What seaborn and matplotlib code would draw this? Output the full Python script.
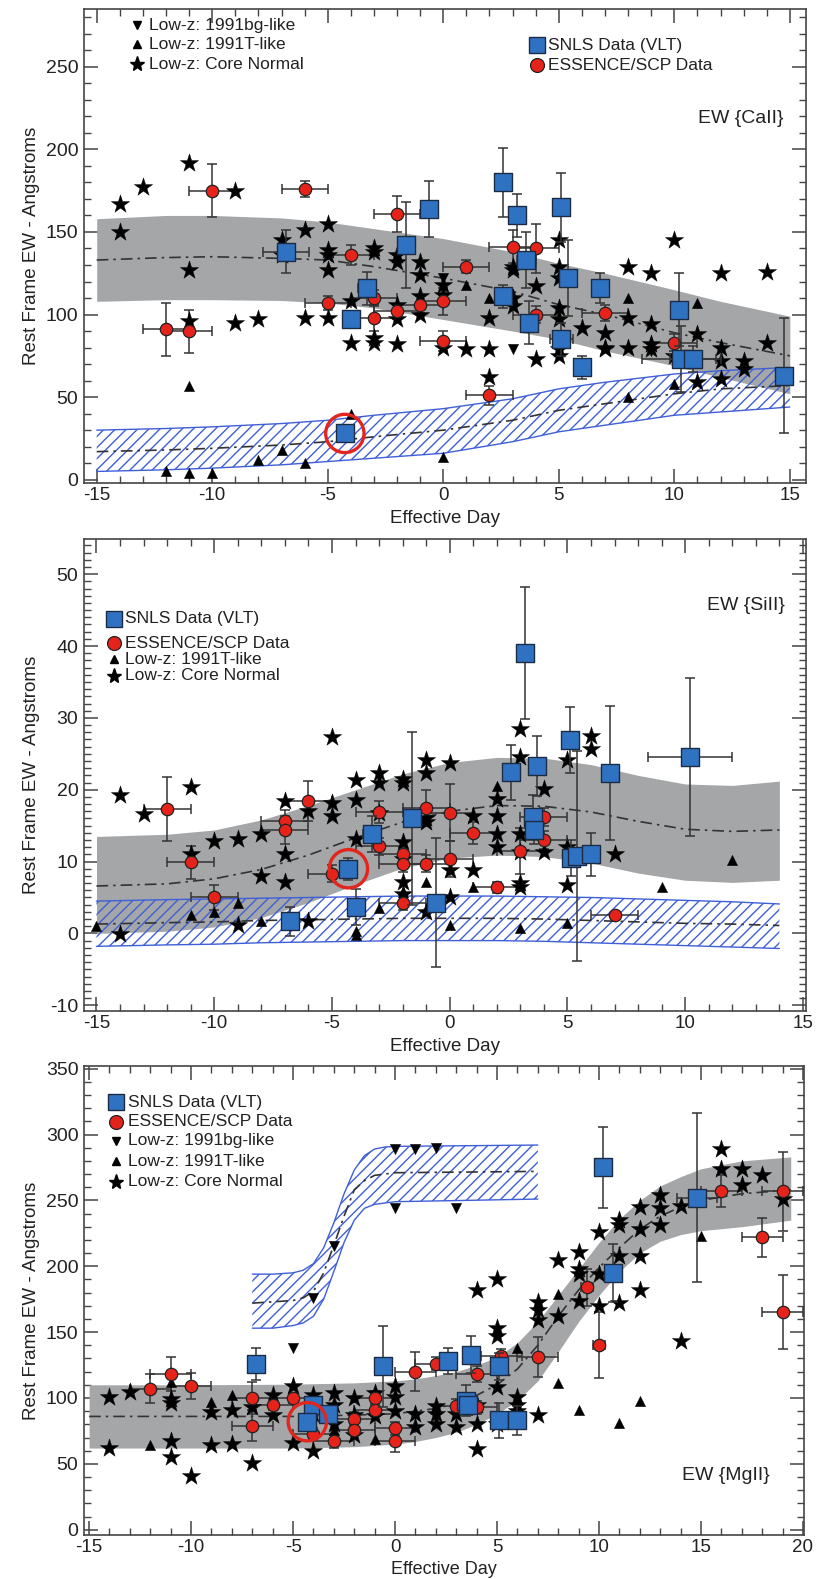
import numpy as np
import pandas as pd
import matplotlib.pyplot as plt
from matplotlib.ticker import MultipleLocator
import seaborn as sns

sns.set_style("ticks")
plt.rcParams['font.family'] = ['Liberation Sans', 'DejaVu Sans']
plt.rcParams['hatch.linewidth'] = 1.0
plt.rcParams['axes.unicode_minus'] = False

SQ_COLOR = '#2f72c2'
CI_COLOR = '#e5231b'
GRAY = '#a4a6a8'
HATCH = '#3f5fd8'
INK = '#333333'

# ---------------- CaII panel ----------------
ca_stars = [(-14, 167), (-14, 150), (-13, 177), (-11, 192), (-11, 127), (-9, 175), (-11, 96), (-9, 95),
            (-8, 97), (-7, 145), (-7, 136), (-6, 151), (-5, 155), (-5, 139), (-5, 136), (-5, 127),
            (-6, 98), (-5, 98), (-4, 83), (-3, 83), (-3, 86), (-2, 82), (-3, 140), (-3, 138),
            (-2, 136), (-2, 132), (-1, 132), (-1, 124), (-4, 108), (-2, 106), (-2, 97), (-1, 111),
            (-1, 100), (0, 80), (0, 118), (0, 112), (5, 145), (10, 145), (8, 129), (9, 125),
            (12, 125), (14, 126), (3, 129), (3, 127), (4, 117), (5, 129), (5, 122), (3, 110),
            (3, 105), (2, 98), (1, 79), (2, 79), (4, 73), (5, 79), (5, 75), (5, 104), (5, 97),
            (6, 92), (7, 89), (7, 80), (7, 79), (8, 98), (8, 80), (9, 94), (9, 82), (9, 79),
            (11, 88), (11, 59), (12, 80), (12, 72), (12, 61), (13, 72), (13, 67), (14, 83),
            (2, 62), (10, 75)]
ca_tri_up = [(-11, 57), (-12, 5), (-11, 4), (-10, 4), (-8, 12), (-7, 18), (-6, 10), (-4, 40),
             (0, 14), (1, 118), (2, 110), (8, 110), (11, 107), (8, 50), (10, 58)]
ca_tri_down = [(3, 79), (0, 122), (9, 78)]
# x, y, xerr, yerr
ca_circles = [(-12, 91, 1, 16), (-11, 90, 1, 13), (-10, 175, 1, 16), (-6, 176, 1, 5),
              (-2, 161, 1, 11), (-4, 136, 1, 6), (-5, 107, 1, 4), (-3, 110, 1, 5), (-3, 98, 1, 8),
              (-2, 102, 1, 4), (-1, 106, 1, 5), (0, 108, 1, 8), (0, 84, 1, 6), (1, 129, 1, 4),
              (3, 141, 1, 10), (4, 140, 1, 15), (4, 100, 1, 5), (7, 101, 1, 5), (2, 51, 1, 6),
              (10, 83, 1, 5)]
ca_squares = [(-6.8, 138, 1.0, 13), (-3.3, 116, 0.4, 10), (-4.0, 97, 0.3, 4), (-1.6, 142, 0.3, 26),
              (-0.6, 164, 0.2, 17), (2.6, 180, 0.2, 21), (3.2, 160, 0.2, 13), (5.1, 165, 0.2, 21),
              (3.6, 133, 0.4, 17), (5.4, 122, 0.3, 23), (2.6, 111, 0.3, 7), (3.7, 95, 0.3, 13),
              (5.1, 85, 0.5, 10), (6.0, 68, 0.2, 7), (6.8, 116, 0.3, 9), (10.2, 103, 0.3, 22),
              (10.3, 73, 1.7, 20), (10.8, 73, 1.0, 8), (14.75, 63, 0.2, 35), (-4.26, 28, 0.2, 4)]
ca_ring = (-4.26, 28)
ca_band_x = [-15, -12, -10, -7, -5, -3, 0, 3, 5, 7, 10, 12, 15]
ca_band_hi = [158, 160, 160, 158.5, 156, 152, 146, 138, 131, 125, 115, 108, 99]
ca_band_lo = [108, 109, 109, 108.5, 107, 104, 97, 90, 85, 78, 69, 62, 52]
ca_band_mid = [133, 134.5, 135, 134, 133, 129, 122, 114, 106, 100, 89, 83, 75]
ca_hatch_x = ca_band_x
ca_hatch_hi = [30, 31, 32, 34, 36, 39, 43, 49, 55, 59, 64, 66, 68]
ca_hatch_lo = [5, 6, 7, 9, 11, 13, 16, 23, 29, 33, 39, 41, 44]
ca_hatch_mid = [17, 18, 19, 21, 23, 26, 30, 36, 42, 46, 52, 55, 57]

# ---------------- SiII panel ----------------
si_stars = [(-14, 19.3), (-13, 16.6), (-11, 20.4), (-11, 11.1), (-10, 12.8), (-9, 13.2), (-8, 13.9),
            (-8, 8.0), (-7, 18.4), (-7, 11.0), (-7, 7.1), (-6, 17.0), (-5, 27.3), (-5, 18.2),
            (-5, 16.3), (-6, 1.7), (-4, 21.3), (-4, 18.6), (-4, 13.1), (-3, 22.3), (-3, 20.9),
            (-2, 21.5), (-2, 21.0), (-1, 24.1), (-1, 22.3), (-1, 16.1), (-1, 15.5), (-2, 12.7),
            (-2, 10.4), (-2, 7.2), (-2, 5.5), (-14, -0.1), (-9, 1.2), (-1, 3.0), (-3, 16.8),
            (3, 28.4), (0, 23.7), (3, 24.5), (2, 18.7), (2, 16.4), (2, 13.9), (2, 12.0), (1, 16.4),
            (1, 8.8), (3, 13.9), (3, 11.4), (3, 7.0), (3, 6.4), (4, 20.1), (4, 11.4), (0, 8.8),
            (5, 24.1), (5, 12.0), (5, 6.7), (6, 27.5), (6, 25.7), (7, 11.0), (0, 5.0)]
si_tri_up = [(-15, 1.0), (-11, 2.6), (-10, 3.0), (-9, 4.3), (-8, 1.7), (-4, -0.2), (-4, 0.3),
             (-3, 3.5), (-2, 5.8), (-1, 7.2), (2, 20.5), (1, 6.4), (3, 0.8), (5, 1.5), (0, 1.2),
             (9, 6.5), (12, 10.2)]
si_tri_down = []
si_circles = [(-12, 17.3, 1, 4.5), (-11, 9.9, 1, 2.3), (-10, 5.0, 1, 1.8), (-7, 15.7, 1, 1.5),
              (-7, 14.4, 1, 2), (-6, 18.4, 1, 2.8), (-5, 8.3, 1, 1.2), (-3, 16.9, 1, 1.5),
              (-3, 12.1, 1, 1.2), (-2, 11.0, 1, 1), (-2, 9.7, 1, 1.2), (-2, 4.3, 1, 1),
              (-1, 17.4, 1, 2.5), (-1, 9.7, 1, 1.2), (0, 16.8, 1, 4), (0, 10.4, 1, 2.5),
              (1, 14.0, 1, 1.5), (2, 6.4, 1, 0.8), (3, 11.5, 1, 3.2), (4, 16.2, 1, 1.2),
              (4, 13.0, 1, 1.2), (7, 2.5, 1, 0.5)]
si_squares = [(-6.8, 1.7, 0.3, 2), (-4.3, 9.0, 0.2, 1.5), (-4.0, 3.7, 0.2, 2.5), (-3.3, 13.8, 0.4, 2.5),
              (-1.6, 16.0, 0.3, 12), (-0.6, 4.3, 0.2, 9), (3.2, 39.0, 0.2, 9.2), (2.6, 22.4, 0.2, 3.8),
              (3.7, 23.3, 0.2, 4.2), (3.55, 16.2, 0.3, 3), (3.6, 14.4, 0.2, 2), (5.1, 26.9, 0.2, 4.6),
              (5.15, 10.5, 0.3, 2.5), (5.4, 10.8, 0.2, 14.6), (6.0, 11.0, 0.2, 3), (6.8, 22.3, 0.2, 9.3),
              (10.2, 24.6, 1.8, 11)]
si_ring = (-4.3, 9.0)
si_band_x = [-15, -12, -10, -8, -6, -4, -2, 0, 2, 4, 6, 8, 10, 12, 14]
si_band_hi = [13.5, 13.8, 14.4, 15.8, 17.8, 20.0, 22.2, 23.8, 24.5, 24.4, 23.5, 22.0, 20.8, 20.6, 21.2]
si_band_lo = [0.0, 0.3, 0.9, 2.2, 4.3, 6.8, 9.1, 10.5, 10.9, 10.7, 9.8, 8.4, 7.4, 7.1, 7.4]
si_band_mid = [6.6, 6.9, 7.6, 8.9, 10.9, 13.3, 15.5, 17.0, 17.8, 17.7, 16.9, 15.6, 14.5, 14.2, 14.4]
si_hatch_x = si_band_x
si_hatch_hi = [4.5, 4.7, 4.8, 4.9, 5.0, 5.1, 5.2, 5.2, 5.2, 5.1, 5.0, 4.8, 4.6, 4.4, 4.1]
si_hatch_lo = [-1.8, -1.6, -1.5, -1.3, -1.2, -1.1, -1.0, -1.0, -1.0, -1.1, -1.3, -1.5, -1.7, -1.9, -2.1]
si_hatch_mid = [1.3, 1.5, 1.6, 1.8, 1.9, 2.0, 2.1, 2.1, 2.1, 2.0, 1.8, 1.6, 1.4, 1.3, 1.1]

# ---------------- MgII panel ----------------
mg_stars = [(-14, 101), (-13, 104.5), (-14, 62), (-11, 96), (-11, 99), (-11, 67), (-11, 55), (-10, 41),
            (-9, 89), (-9, 64), (-8, 91), (-8, 65), (-7, 93), (-7, 51), (-6, 102), (-6, 87), (-5, 109),
            (-5, 66), (-4, 102), (-4, 60), (-3, 104), (-3, 80), (-2, 100), (-2, 87), (-2, 72),
            (-1, 104), (-1, 86), (0, 109), (0, 101), (0, 90), (1, 88), (1, 78), (2, 88), (2, 80),
            (-3, 95), (-4, 88), (4, 182), (5, 190), (5, 153), (5, 147), (6, 101), (6, 95), (7, 173),
            (7, 167), (7, 159), (7, 87), (8, 205), (8, 162), (9, 211), (9, 198), (9, 194), (9, 174),
            (10, 194), (10, 170), (11, 235), (11, 231), (11, 208), (11, 172), (10, 226), (12, 245),
            (12, 228), (12, 208), (12, 182), (13, 254), (13, 244), (13, 231), (14, 246), (14, 143),
            (16, 289), (16, 274), (17, 274), (17, 262), (18, 269), (19, 251), (3, 78), (4, 80),
            (4, 61), (5, 80), (3, 88), (5, 108), (6, 90), (4, 95), (2, 94)]
mg_tri_up = [(-12, 64), (-11, 112), (-9, 97), (-8, 102), (-1, 69), (-3, 76), (6, 138), (8, 179),
             (8, 111), (9, 91), (11, 81), (12, 98), (15, 223)]
mg_tri_down = [(-4, 176), (-3, 215), (0, 289), (1, 289), (2, 290), (0, 244), (-5, 138), (3, 244)]
mg_circles = [(-12, 107, 1, 11), (-11, 118, 1, 13), (-10, 109, 1, 10), (-7, 100, 1, 12), (-7, 79, 1, 12),
              (-6, 95, 1, 4), (-5, 100, 1, 4), (-4, 73, 1, 4), (-3, 67, 1, 5), (-2, 84, 1, 5),
              (-2, 76, 1, 4), (-1, 100, 1, 5), (-1, 91, 1, 5), (0, 77, 1, 5), (0, 67, 1, 8),
              (1, 120, 1, 15), (2, 126, 1, 5), (3, 94, 1, 5), (4, 118, 1, 6), (4, 93, 1, 5),
              (5.2, 132, 1, 5), (7, 131, 1, 15), (9.4, 184, 0.3, 14), (10, 140, 0.3, 25),
              (16, 257, 1, 12), (18, 222, 1, 15), (19, 257, 1, 30), (19, 165, 1, 28)]
mg_squares = [(-6.8, 126, 0.2, 12), (-4.0, 95, 0.2, 5), (-3.3, 88, 0.2, 5), (-0.6, 124, 0.2, 31),
              (2.6, 128, 0.3, 10), (3.7, 133, 0.3, 14), (3.5, 98, 0.3, 12), (3.6, 95, 0.3, 8),
              (5.1, 124, 0.3, 10), (5.1, 83, 0.3, 13), (6.0, 83, 0.3, 11), (10.2, 275, 0.2, 31),
              (10.7, 195, 0.3, 22), (14.8, 252, 1.0, 64), (-4.3, 82, 0.2, 5)]
mg_ring = (-4.3, 82)
mg_band_x = [-15, -10, -5, -2, 0, 1, 2, 3, 4, 5, 6, 7, 8, 9, 10, 11, 12, 13, 14, 15, 17, 19.4]
mg_band_hi = [110, 110, 110.5, 111.5, 113, 114.5, 117, 120, 125, 131, 142, 158, 178, 198, 218, 236,
              250, 261, 268, 274, 280, 283]
mg_band_lo = [62, 62, 62, 63, 65, 67, 70, 74, 80, 88, 98, 113, 135, 158, 178, 196, 210, 219, 224,
              227, 230, 235]
mg_band_mid = [86, 86, 86, 87, 88, 90, 92, 96, 102, 110, 122, 140, 162, 182, 199, 214, 228, 238,
               245, 250, 255, 258]
mg_hatch_x = [-7, -6, -5, -4.5, -4, -3.5, -3, -2.5, -2, -1.5, -1, -0.5, 0, 7]
mg_hatch_hi = [194, 194, 195, 197, 202, 214, 233, 255, 273, 284, 289, 290.5, 291, 292]
mg_hatch_lo = [153, 153, 155, 157, 162, 175, 196, 218, 235, 244, 247, 248, 249, 251]
mg_hatch_mid = [172, 173, 174, 176, 181, 195, 216, 238, 258, 265, 269, 270, 271, 272]

LBL_SNLS = 'SNLS Data (VLT)'
LBL_ESS = 'ESSENCE/SCP Data'
LBL_BG = 'Low-z: 1991bg-like'
LBL_T = 'Low-z: 1991T-like'
LBL_N = 'Low-z: Core Normal'

DASHDOT = (0, (7, 3, 1.5, 3))

fig = plt.figure(figsize=(8.18, 15.79), dpi=100)
W, H = 818, 1579


def make_axes(l, r, t, b):
    return fig.add_axes([l / W, 1 - b / H, (r - l) / W, (b - t) / H])


def draw_bands(ax, bx, bhi, blo, bmid, hx, hhi, hlo, hmid):
    ax.fill_between(bx, blo, bhi, color=GRAY, lw=0, zorder=1)
    ax.plot(bx, bmid, color=INK, lw=1.2, ls=DASHDOT, zorder=2)
    ax.fill_between(hx, hlo, hhi, facecolor='none', edgecolor=HATCH, hatch='///', lw=0, zorder=2)
    ax.plot(hx, hhi, color=HATCH, lw=1.0, zorder=2)
    ax.plot(hx, hlo, color=HATCH, lw=1.0, zorder=2)
    ax.plot(hx, hmid, color=INK, lw=1.2, ls=DASHDOT, zorder=2)


def draw_points(ax, stars, tri_up, tri_down, circles, squares, ring):
    st = pd.DataFrame(stars, columns=['x', 'y'])
    sns.scatterplot(data=st, x='x', y='y', marker='*', s=190, color='black', edgecolor='black',
                    linewidth=0.3, ax=ax, zorder=4, legend=False)
    if tri_up:
        tu = pd.DataFrame(tri_up, columns=['x', 'y'])
        sns.scatterplot(data=tu, x='x', y='y', marker='^', s=55, color='black', edgecolor='black',
                        linewidth=0.3, ax=ax, zorder=4, legend=False)
    if tri_down:
        td = pd.DataFrame(tri_down, columns=['x', 'y'])
        sns.scatterplot(data=td, x='x', y='y', marker='v', s=55, color='black', edgecolor='black',
                        linewidth=0.3, ax=ax, zorder=4, legend=False)
    ci = pd.DataFrame(circles, columns=['x', 'y', 'xerr', 'yerr'])
    ax.errorbar(ci['x'], ci['y'], xerr=ci['xerr'], yerr=ci['yerr'], fmt='none', ecolor=INK,
                elinewidth=1.1, capsize=3.5, capthick=1.1, zorder=3)
    sns.scatterplot(data=ci, x='x', y='y', marker='o', s=80, color=CI_COLOR, edgecolor='#222222',
                    linewidth=0.9, ax=ax, zorder=5, legend=False)
    sq = pd.DataFrame(squares, columns=['x', 'y', 'xerr', 'yerr'])
    ax.errorbar(sq['x'], sq['y'], xerr=sq['xerr'], yerr=sq['yerr'], fmt='none', ecolor=INK,
                elinewidth=1.1, capsize=3.5, capthick=1.1, zorder=5.5)
    sns.scatterplot(data=sq, x='x', y='y', marker='s', s=150, color=SQ_COLOR, edgecolor='#1c2b44',
                    linewidth=1.0, ax=ax, zorder=6, legend=False)
    ax.scatter([ring[0]], [ring[1]], s=760, facecolors='none', edgecolors='#e3261d', linewidths=2.4,
               zorder=7)


def legend_rows(ax, box, entries, mx, tx):
    l, r, t, b = box
    for marker, label, py in entries:
        fx = (mx - l) / (r - l)
        fy = (b - py) / (b - t)
        if marker == 's':
            ax.plot([fx], [fy], marker='s', ms=12, color=SQ_COLOR, mec='#1c2b44', mew=1.0,
                    transform=ax.transAxes, clip_on=False, zorder=8)
        elif marker == 'o':
            ax.plot([fx], [fy], marker='o', ms=10, color=CI_COLOR, mec='#222222', mew=0.9,
                    transform=ax.transAxes, clip_on=False, zorder=8)
        elif marker == '*':
            ax.plot([fx], [fy], marker='*', ms=11, color='black', transform=ax.transAxes,
                    clip_on=False, zorder=8)
        else:
            ax.plot([fx], [fy], marker=marker, ms=6, color='black', transform=ax.transAxes,
                    clip_on=False, zorder=8)
        ax.text((tx - l) / (r - l), fy, label, transform=ax.transAxes, ha='left', va='center',
                fontsize=12.5, color='#222222')


def style_axes(ax, box, xlim, ylim, ymajor, yminor, xlabel_top, xlabel_size=13.5):
    l, r, t, b = box
    ax.set_xlim(*xlim)
    ax.set_ylim(*ylim)
    ax.xaxis.set_major_locator(MultipleLocator(5))
    ax.xaxis.set_minor_locator(MultipleLocator(1))
    ax.yaxis.set_major_locator(MultipleLocator(ymajor))
    ax.yaxis.set_minor_locator(MultipleLocator(yminor))
    ax.tick_params(which='both', direction='in', top=True, right=True, colors='#444444')
    ax.tick_params(which='major', length=10, width=1.1, labelsize=14, pad=4, labelcolor='#222222')
    ax.tick_params(axis='x', which='major', labelsize=13.5, pad=3)
    ax.tick_params(which='minor', length=5, width=1.0)
    for sp in ax.spines.values():
        sp.set_color('#444444')
        sp.set_linewidth(1.2)
    ax.set_xlabel('Effective Day', fontsize=xlabel_size, color='#222222')
    ax.set_ylabel('Rest Frame EW - Angstroms', fontsize=13.5, color='#222222')
    ax.yaxis.set_label_coords((40 - l) / (r - l), 0.5)
    ax.xaxis.set_label_coords(0.5, (b - xlabel_top) / (b - t))


# panel 1: CaII
box1 = (84, 806, 9, 483)
ax1 = make_axes(*box1)
draw_bands(ax1, ca_band_x, ca_band_hi, ca_band_lo, ca_band_mid,
           ca_hatch_x, ca_hatch_hi, ca_hatch_lo, ca_hatch_mid)
draw_points(ax1, ca_stars, ca_tri_up, ca_tri_down, ca_circles, ca_squares, ca_ring)
style_axes(ax1, box1, (-15.55, 15.7), (-2, 285), 50, 10, 510)
legend_rows(ax1, box1, [('v', LBL_BG, 25), ('^', LBL_T, 44), ('*', LBL_N, 64)], 137, 149)
legend_rows(ax1, box1, [('s', LBL_SNLS, 45), ('o', LBL_ESS, 65)], 537, 548)
ax1.text((741 - 84) / 722, (483 - 118) / 474, 'EW {CaII}', transform=ax1.transAxes,
         ha='center', va='center', fontsize=14, color='#222222')

# panel 2: SiII
box2 = (84, 806, 539, 1011)
ax2 = make_axes(*box2)
draw_bands(ax2, si_band_x, si_band_hi, si_band_lo, si_band_mid,
           si_hatch_x, si_hatch_hi, si_hatch_lo, si_hatch_mid)
draw_points(ax2, si_stars, si_tri_up, si_tri_down, si_circles, si_squares, si_ring)
style_axes(ax2, box2, (-15.53, 15.13), (-10.8, 54.9), 10, 1, 1038)
legend_rows(ax2, box2, [('s', LBL_SNLS, 619), ('o', LBL_ESS, 643), ('^', LBL_T, 659),
                        ('*', LBL_N, 676)], 114, 125)
ax2.text((746 - 84) / 722, (1011 - 605) / 472, 'EW {SiII}', transform=ax2.transAxes,
         ha='center', va='center', fontsize=14, color='#222222')

# panel 3: MgII
box3 = (84, 804, 1066, 1535)
ax3 = make_axes(*box3)
draw_bands(ax3, mg_band_x, mg_band_hi, mg_band_lo, mg_band_mid,
           mg_hatch_x, mg_hatch_hi, mg_hatch_lo, mg_hatch_mid)
draw_points(ax3, mg_stars, mg_tri_up, mg_tri_down, mg_circles, mg_squares, mg_ring)
style_axes(ax3, box3, (-15.25, 20.05), (-4, 352), 50, 10, 1561, xlabel_size=13)
legend_rows(ax3, box3, [('s', LBL_SNLS, 1102), ('o', LBL_ESS, 1122), ('v', LBL_BG, 1141),
                        ('^', LBL_T, 1161), ('*', LBL_N, 1182)], 116, 128)
ax3.text((726 - 84) / 720, (1535 - 1475) / 469, 'EW {MgII}', transform=ax3.transAxes,
         ha='center', va='center', fontsize=14, color='#222222')

fig.savefig('out.png', dpi=100)
